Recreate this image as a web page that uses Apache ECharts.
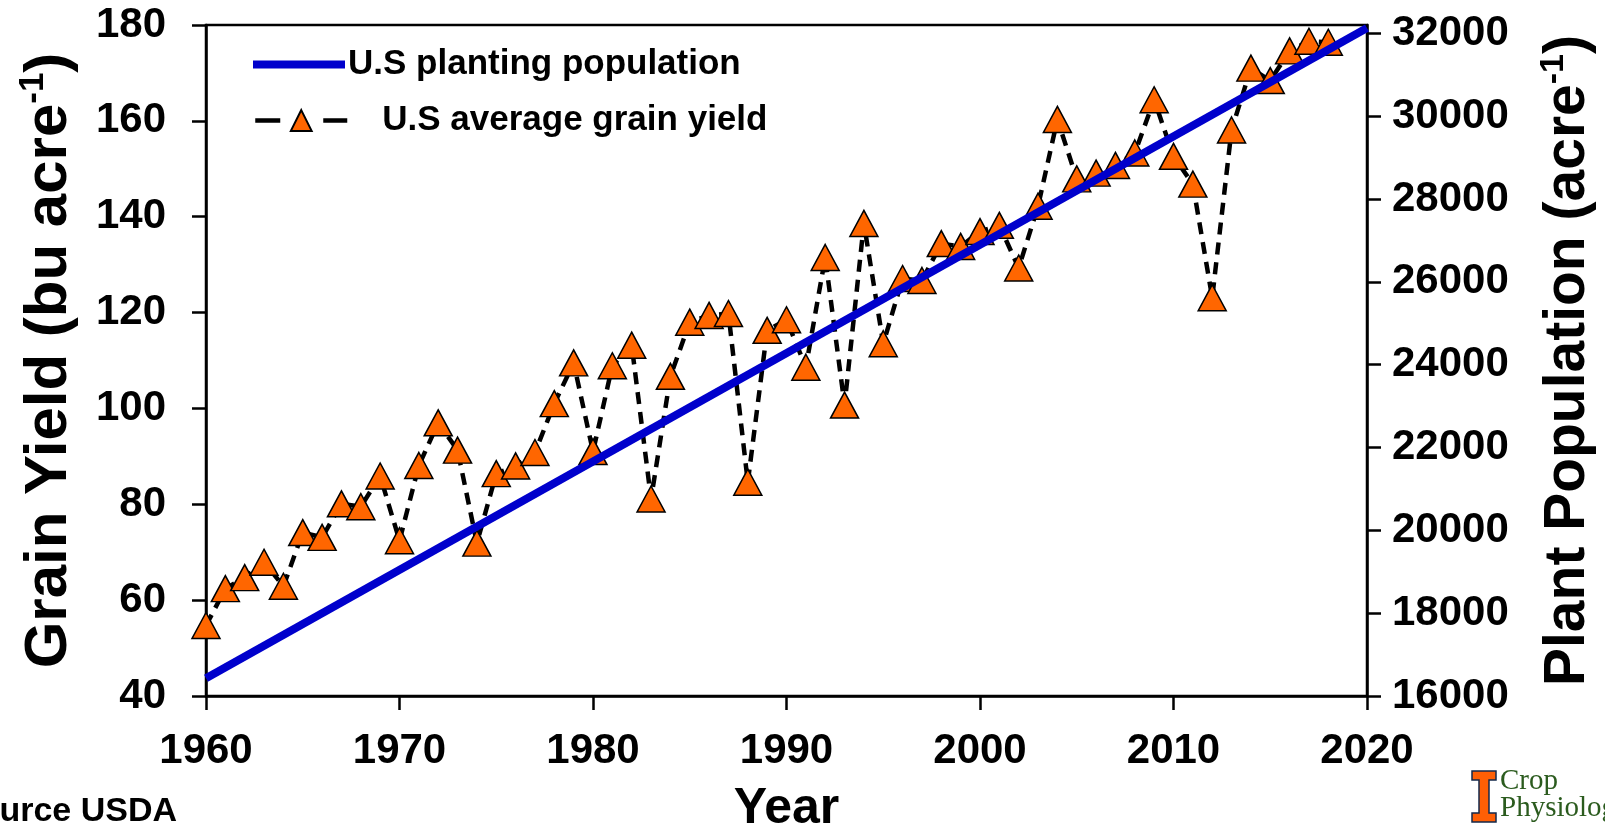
<!DOCTYPE html>
<html><head><meta charset="utf-8">
<script src="https://cdn.jsdelivr.net/npm/echarts@6.0.0/dist/echarts.min.js"></script>
<style>html,body{margin:0;padding:0;background:#fff}#c{width:1605px;height:827px}</style>
</head><body><div id="c"></div>
<script>
const years = [1960,1961,1962,1963,1964,1965,1966,1967,1968,1969,1970,1971,1972,1973,1974,1975,1976,1977,1978,1979,1980,1981,1982,1983,1984,1985,1986,1987,1988,1989,1990,1991,1992,1993,1994,1995,1996,1997,1998,1999,2000,2001,2002,2003,2004,2005,2006,2007,2008,2009,2010,2011,2012,2013,2014,2015,2016,2017,2018];
const grainYield = [54.7,62.4,64.7,67.9,62.9,74.1,73.1,80.1,79.5,85.9,72.4,88.1,97.0,91.3,71.9,86.4,88.0,90.8,101.0,109.5,91.0,108.9,113.2,81.1,106.7,118.0,119.4,119.8,84.6,116.3,118.5,108.6,131.5,100.7,138.6,113.5,127.1,126.7,134.4,133.8,136.9,138.2,129.3,142.2,160.3,147.9,149.1,150.7,153.3,164.4,152.6,146.8,123.1,158.1,171.0,168.4,174.6,176.6,176.4];
const popYears = [1960, 2020];
const plantPopulation = [16430, 32130];
const popTicks = [16000,18000,20000,22000,24000,26000,28000,30000,32000];
const seriesNames = ['U.S planting population', 'U.S average grain yield'];

const FF = "'Liberation Sans', Arial, Helvetica, sans-serif";
const chart = echarts.init(document.getElementById('c'), null, {renderer: 'canvas'});
const plain = v => String(v);

const axisCommon = {
  axisLine: {show: true, lineStyle: {color: '#000', width: 2.5}},
  axisTick: {show: true, inside: false, length: 14, lineStyle: {color: '#000', width: 2.5}},
  splitLine: {show: false},
  axisLabel: {color: '#000', fontSize: 42, fontWeight: 'bold', fontFamily: FF, formatter: plain}
};

const option = {
  backgroundColor: '#fff',
  animation: false,
  grid: {left: 206, right: 238, top: 25, bottom: 131, show: true, borderColor: '#000', borderWidth: 2.5,
         backgroundColor: 'transparent', containLabel: false, outerBoundsMode: 'none'},
  legend: [
    {data: [{name: seriesNames[0], icon: 'rect'}], left: 253, top: 47, padding: 0,
     itemWidth: 92, itemHeight: 8, itemGap: 0,
     textStyle: {color: '#000', fontSize: 35, fontWeight: 'bold', fontFamily: FF, padding: [0,0,0,-2]}},
    {data: [seriesNames[1]], left: 253, top: 103, padding: 0,
     itemWidth: 92, itemHeight: 26, itemGap: 0,
     lineStyle: {type: [25, 43], width: 4.5, color: '#000'},
     textStyle: {color: '#000', fontSize: 35, fontWeight: 'bold', fontFamily: FF, padding: [0,0,0,30]}}
  ],
  xAxis: Object.assign({}, axisCommon, {
    type: 'value', min: 1960, max: 2020, interval: 10,
    axisLabel: Object.assign({}, axisCommon.axisLabel, {margin: 34}),
    name: 'Year', nameLocation: 'middle', nameGap: 88,
    nameTextStyle: {color: '#000', fontSize: 50, fontWeight: 'bold', fontFamily: FF}
  }),
  yAxis: [
    Object.assign({}, axisCommon, {
      type: 'value', min: 40, max: 180, interval: 20, position: 'left',
      axisLabel: Object.assign({}, axisCommon.axisLabel, {margin: 40}),
      name: '{a|Grain Yield (bu acre}{s|-1}{a|)}', nameLocation: 'middle', nameRotate: 90, nameGap: 124,
      nameTextStyle: {rich: {
        a: {color: '#000', fontSize: 60, fontWeight: 'bold', fontFamily: FF, lineHeight: 66},
        s: {color: '#000', fontSize: 35, fontWeight: 'bold', fontFamily: FF, verticalAlign: 'top', lineHeight: 40}
      }}
    }),
    Object.assign({}, axisCommon, {
      type: 'value', min: 16000, max: 32200, interval: 2000, position: 'right',
      axisTick: Object.assign({}, axisCommon.axisTick, {customValues: popTicks}),
      axisLabel: Object.assign({}, axisCommon.axisLabel, {margin: 25, customValues: popTicks}),
      name: '{a|Plant Population (acre}{s|-1}{a|)}', nameLocation: 'middle', nameRotate: 90, nameGap: 170,
      nameTextStyle: {rich: {
        a: {color: '#000', fontSize: 57, fontWeight: 'bold', fontFamily: FF, lineHeight: 63},
        s: {color: '#000', fontSize: 34, fontWeight: 'bold', fontFamily: FF, verticalAlign: 'top', lineHeight: 38}
      }}
    })
  ],
  series: [
    {
      name: seriesNames[1], type: 'line', yAxisIndex: 0, z: 2,
      data: years.map((y, i) => [y, grainYield[i]]),
      symbol: 'triangle', symbolSize: [28, 26],
      itemStyle: {color: '#FF6600', borderColor: '#000', borderWidth: 1.5},
      lineStyle: {color: '#000', width: 4.5, type: [12, 8]}
    },
    {
      name: seriesNames[0], type: 'line', yAxisIndex: 1, z: 3,
      data: popYears.map((y, i) => [y, plantPopulation[i]]),
      showSymbol: false, symbol: 'none',
      itemStyle: {color: '#0000CC'},
      lineStyle: {color: '#0000CC', width: 8}
    }
  ],
  graphic: [
    {type: 'text', left: -44, top: 795, style: {text: 'Source USDA', fill: '#000', font: "bold 34px 'Liberation Sans', Arial, sans-serif"}},
    {type: 'polygon', shape: {points: [[1472,771],[1496,771],[1496,780],[1489,780],[1489,813],[1496,813],[1496,822],[1472,822],[1472,813],[1479,813],[1479,780],[1472,780]]},
     style: {fill: '#FF5F05', stroke: '#13294B', lineWidth: 1.5}},
    {type: 'text', left: 1500, top: 767, style: {text: 'Crop', fill: '#2B5B1E', font: "29px 'Liberation Serif', 'Times New Roman', serif"}},
    {type: 'text', left: 1500, top: 794, style: {text: 'Physiology', fill: '#2B5B1E', font: "29px 'Liberation Serif', 'Times New Roman', serif"}}
  ]
};
chart.setOption(option);
</script>
</body></html>
